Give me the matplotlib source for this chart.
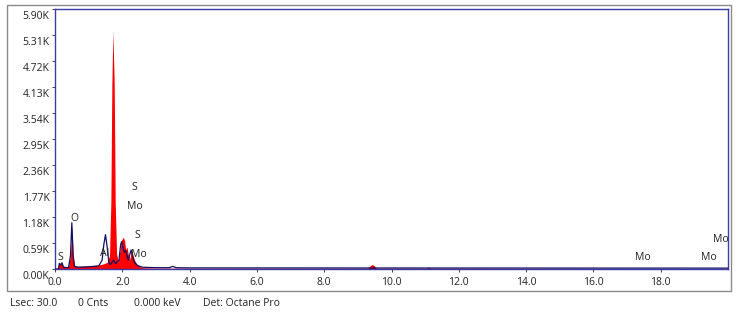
import matplotlib.pyplot as plt
from matplotlib.patches import Rectangle
from matplotlib.transforms import ScaledTranslation

plt.rcParams['font.family'] = ['Open Sans', 'DejaVu Sans']

# red spectrum (filled)
red_kev = [0.0, 0.08, 0.12, 0.16, 0.20, 0.24, 0.30, 0.40, 0.46, 0.50, 0.54, 0.58,
           0.70, 1.00, 1.30, 1.45, 1.55, 1.62, 1.66, 1.69, 1.72, 1.76, 1.79, 1.83,
           1.88, 1.93, 1.98, 2.03, 2.07, 2.10, 2.14, 2.18, 2.22, 2.27, 2.31, 2.36,
           2.42, 2.50, 2.60, 3.00, 9.30, 9.38, 9.42, 9.48, 9.55, 11.05, 11.10,
           11.15, 20.0]
red_cnt = [0, 0, 150, 100, 160, 60, 40, 40, 300, 980, 300, 60,
           60, 70, 90, 120, 150, 300, 1500, 4200, 5400, 4200, 1500, 350,
           160, 420, 660, 720, 640, 440, 500, 320, 220, 400, 340, 210,
           120, 60, 30, 20, 20, 80, 100, 80, 20, 20, 40,
           20, 10]

# blue spectrum (outline)
blue_kev = [0.0, 0.10, 0.13, 0.17, 0.21, 0.25, 0.40, 0.46, 0.50, 0.54, 0.58,
            0.70, 1.00, 1.30, 1.40, 1.45, 1.50, 1.55, 1.60, 1.65, 1.74, 1.80,
            1.90, 1.95, 1.98, 2.02, 2.06, 2.10, 2.14, 2.18, 2.23, 2.26, 2.30,
            2.36, 2.45, 2.60, 3.00, 3.40, 3.50, 3.60, 4.00, 20.0]
blue_cnt = [0, 0, 130, 90, 140, 40, 30, 300, 1050, 300, 60,
            40, 50, 70, 200, 550, 780, 500, 150, 100, 200, 120,
            200, 550, 620, 500, 380, 420, 300, 200, 350, 430, 300,
            150, 80, 40, 30, 30, 60, 30, 25, 20]

# element markers: (label, keV, counts)
marker_txt = ['S', 'O', 'Al', 'S', 'Mo', 'S', 'Mo', 'Mo', 'Mo', 'Mo']
marker_kev = [0.17, 0.58, 1.48, 2.37, 2.37, 2.45, 2.50, 17.48, 19.42, 19.80]
marker_cnt = [270, 1150, 360, 1840, 1410, 750, 340, 250, 250, 660]

yticks = [0, 590, 1180, 1770, 2360, 2950, 3540, 4130, 4720, 5310, 5900]
ytick_labels = ['0.00K', '0.59K', '1.18K', '1.77K', '2.36K', '2.95K',
                '3.54K', '4.13K', '4.72K', '5.31K', '5.90K']
xticks = [0, 2, 4, 6, 8, 10, 12, 14, 16, 18]

fig = plt.figure(figsize=(7.38, 3.16), dpi=100)
ax = fig.add_axes([55 / 738, 47 / 316, 673 / 738, 260 / 316])

# outer gray frame
fig.patches.append(Rectangle((7 / 738, 25 / 316), 724 / 738, 286 / 316,
                             transform=fig.transFigure, fill=False,
                             ec='#8a8a8a', lw=1.0))

ax.fill_between(red_kev, red_cnt, color='#ff0000', lw=0, zorder=2)
ax.plot(blue_kev, blue_cnt, color='#101060', lw=0.9, zorder=3)

for t, x, y in zip(marker_txt, marker_kev, marker_cnt):
    ax.text(x, y, t, ha='center', va='center', fontsize=7.5,
            color='#222222', clip_on=True, zorder=4)

ax.set_xlim(0, 20)
ax.set_ylim(0, 5900)
ax.set_xticks(xticks)
ax.set_xticklabels(['%.1f' % v for v in xticks])
ax.set_yticks(yticks)
ax.set_yticklabels(ytick_labels)
ax.tick_params(axis='both', labelsize=7.5, colors='#222222', length=2,
               width=0.6, pad=2)
ax.tick_params(axis='x', pad=4)
for lab in ax.get_yticklabels():
    lab.set_transform(lab.get_transform() +
                      ScaledTranslation(0, -4 / 72, fig.dpi_scale_trans))
for s in ax.spines.values():
    s.set_color('#3a3aa8')
    s.set_linewidth(1.0)

# status bar
status = ['Lsec: 30.0', '0 Cnts', '0.000 keV', 'Det: Octane Pro']
status_x = [10, 78, 134, 203]
for t, x in zip(status, status_x):
    fig.text(x / 738, 1 - 303 / 316, t, fontsize=7.5, color='#222222',
             va='center', ha='left')

fig.savefig('out.png', dpi=100)
